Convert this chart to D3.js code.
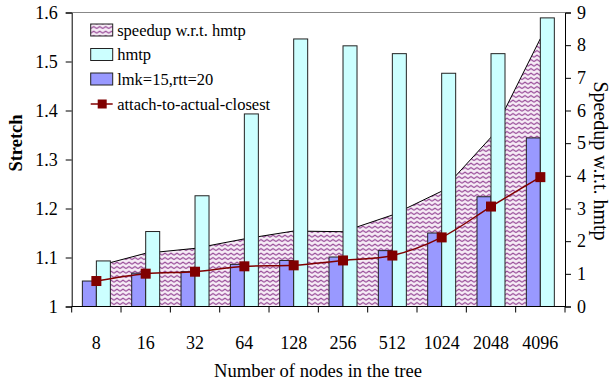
<!DOCTYPE html>
<html>
<head>
<meta charset="utf-8">
<script src="https://cdn.jsdelivr.net/npm/d3@7"></script>
<style>
  body { margin: 0; background: #fff; }
  text { font-family: "Liberation Serif", "Times New Roman", serif; fill: #000; }
</style>
</head>
<body>
<script>
// data
const categories = ["8", "16", "32", "64", "128", "256", "512", "1024", "2048", "4096"];
const speedup = [1.23, 1.63, 1.78, 2.07, 2.31, 2.29, 2.80, 3.53, 5.18, 8.2];
const hmtp = [1.093, 1.153, 1.226, 1.393, 1.546, 1.532, 1.516, 1.476, 1.516, 1.589];
const lmk = [1.052, 1.068, 1.071, 1.086, 1.094, 1.101, 1.114, 1.150, 1.224, 1.344];
const closest = [1.052, 1.067, 1.071, 1.082, 1.084, 1.094, 1.104, 1.141, 1.204, 1.264];
const leftTicks = [1, 1.1, 1.2, 1.3, 1.4, 1.5, 1.6];
const rightTicks = [0, 1, 2, 3, 4, 5, 6, 7, 8, 9];

const W = 616, H = 388;
const plot = { left: 71.7, right: 565, top: 12.5, bottom: 306.5 };

const svg = d3.select("body").append("svg")
    .attr("width", W)
    .attr("height", H);

// zigzag pattern for the speedup area
const defs = svg.append("defs");
const pat = defs.append("pattern")
    .attr("id", "zigzag")
    .attr("patternUnits", "userSpaceOnUse")
    .attr("width", 6)
    .attr("height", 4.5);
pat.append("rect").attr("width", 6).attr("height", 4.5).attr("fill", "#f6ecf6");
pat.append("polyline")
    .attr("points", "0,3.2 3,1.2 6,3.2")
    .attr("fill", "none")
    .attr("stroke", "#8e3a8e")
    .attr("stroke-width", 1.1);

// scales
const x = d3.scaleBand().domain(categories).range([plot.left, plot.right]).padding(0);
const sub = d3.scaleBand().domain(["lmk", "hmtp"]).range([0, x.bandwidth()]).paddingOuter(0.762);
const yL = d3.scaleLinear().domain([1, 1.6]).range([plot.bottom, plot.top]);
const yR = d3.scaleLinear().domain([0, 9]).range([plot.bottom, plot.top]);
const cx = d => x(d) + x.bandwidth() / 2;

// plot area top border
svg.append("line")
    .attr("x1", plot.left).attr("x2", plot.right)
    .attr("y1", plot.top).attr("y2", plot.top)
    .attr("stroke", "#888").attr("stroke-width", 1);

// speedup area (right axis)
const area = d3.area()
    .x((d, i) => cx(categories[i]))
    .y0(plot.bottom)
    .y1(d => yR(d));
svg.append("path")
    .datum(speedup)
    .attr("d", area)
    .attr("fill", "url(#zigzag)");
svg.append("path")
    .datum(speedup)
    .attr("d", d3.line().x((d, i) => cx(categories[i])).y(d => yR(d)))
    .attr("fill", "none")
    .attr("stroke", "#000")
    .attr("stroke-width", 1);

// bars
const bars = svg.append("g");
bars.selectAll(".lmk")
    .data(lmk)
    .join("rect")
    .attr("class", "lmk")
    .attr("x", (d, i) => x(categories[i]) + sub("lmk"))
    .attr("y", d => yL(d))
    .attr("width", sub.bandwidth())
    .attr("height", d => plot.bottom - yL(d))
    .attr("fill", "#9999ff")
    .attr("stroke", "#222")
    .attr("stroke-width", 1);
bars.selectAll(".hmtp")
    .data(hmtp)
    .join("rect")
    .attr("class", "hmtp")
    .attr("x", (d, i) => x(categories[i]) + sub("hmtp"))
    .attr("y", d => yL(d))
    .attr("width", sub.bandwidth())
    .attr("height", d => plot.bottom - yL(d))
    .attr("fill", "#ccffff")
    .attr("stroke", "#222")
    .attr("stroke-width", 1);

// attach-to-actual-closest line
svg.append("path")
    .datum(closest)
    .attr("d", d3.line()
        .x((d, i) => cx(categories[i]))
        .y(d => yL(d))
        .curve(d3.curveCatmullRom.alpha(0.5)))
    .attr("fill", "none")
    .attr("stroke", "#800000")
    .attr("stroke-width", 1.5);
svg.append("g").selectAll("rect")
    .data(closest)
    .join("rect")
    .attr("x", (d, i) => cx(categories[i]) - 5)
    .attr("y", d => yL(d) - 5)
    .attr("width", 10)
    .attr("height", 10)
    .attr("fill", "#800000");

// left axis
const axL = svg.append("g")
    .attr("transform", `translate(${plot.left},0)`)
    .call(d3.axisLeft(yL).tickValues(leftTicks)
        .tickFormat(d => d === 1 ? "1" : d.toFixed(1))
        .tickSize(6).tickPadding(8));
// right axis
const axR = svg.append("g")
    .attr("transform", `translate(${plot.right},0)`)
    .call(d3.axisRight(yR).tickValues(rightTicks)
        .tickFormat(d3.format("d"))
        .tickSize(6).tickPadding(6));
[axL, axR].forEach(g => {
    g.selectAll("text").style("font-family", "Liberation Serif").style("font-size", "18px").attr("fill", "#000");
    g.selectAll("line, path").attr("stroke", "#000");
});

// x axis with ticks between categories
const axX = svg.append("g");
axX.append("line")
    .attr("x1", plot.left).attr("x2", plot.right)
    .attr("y1", plot.bottom).attr("y2", plot.bottom)
    .attr("stroke", "#000");
axX.selectAll(".tk")
    .data(categories.concat(["end"]))
    .join("line")
    .attr("class", "tk")
    .attr("x1", (d, i) => plot.left + i * x.bandwidth())
    .attr("x2", (d, i) => plot.left + i * x.bandwidth())
    .attr("y1", plot.bottom).attr("y2", plot.bottom + 6)
    .attr("stroke", "#000");
axX.selectAll(".lbl")
    .data(categories)
    .join("text")
    .attr("class", "lbl")
    .attr("x", d => cx(d))
    .attr("y", 349)
    .attr("text-anchor", "middle")
    .style("font-size", "18px")
    .text(d => d);

// axis titles
svg.append("text")
    .attr("x", 318).attr("y", 377)
    .attr("text-anchor", "middle")
    .style("font-size", "18.6px")
    .text("Number of nodes in the tree");
svg.append("text")
    .attr("transform", "translate(22,143) rotate(-90)")
    .attr("text-anchor", "middle")
    .style("font-size", "18.5px")
    .style("font-weight", "bold")
    .text("Stretch");
svg.append("text")
    .attr("transform", "translate(594,161) rotate(90)")
    .attr("text-anchor", "middle")
    .style("font-size", "20px")
    .text("Speedup w.r.t. hmtp");

// legend
const legendItems = ["speedup w.r.t. hmtp", "hmtp", "lmk=15,rtt=20", "attach-to-actual-closest"];
const legendFill = ["url(#zigzag)", "#ccffff", "#9999ff", null];
const lg = svg.append("g").attr("transform", "translate(90.7,0)");
const rowY = [30, 54.5, 79, 104];
legendItems.forEach((name, i) => {
    const g = lg.append("g").attr("transform", `translate(0,${rowY[i]})`);
    if (legendFill[i]) {
        g.append("rect")
            .attr("x", 0).attr("y", -6)
            .attr("width", 22).attr("height", 12)
            .attr("fill", legendFill[i])
            .attr("stroke", "#222");
    } else {
        g.append("line")
            .attr("x1", 0).attr("x2", 22)
            .attr("y1", 0).attr("y2", 0)
            .attr("stroke", "#800000").attr("stroke-width", 1.5);
        g.append("rect")
            .attr("x", 7).attr("y", -4.5)
            .attr("width", 9).attr("height", 9)
            .attr("fill", "#800000");
    }
    g.append("text")
        .attr("x", 26.5).attr("y", 5.5)
        .style("font-size", "16.5px")
        .text(name);
});
</script>
</body>
</html>
